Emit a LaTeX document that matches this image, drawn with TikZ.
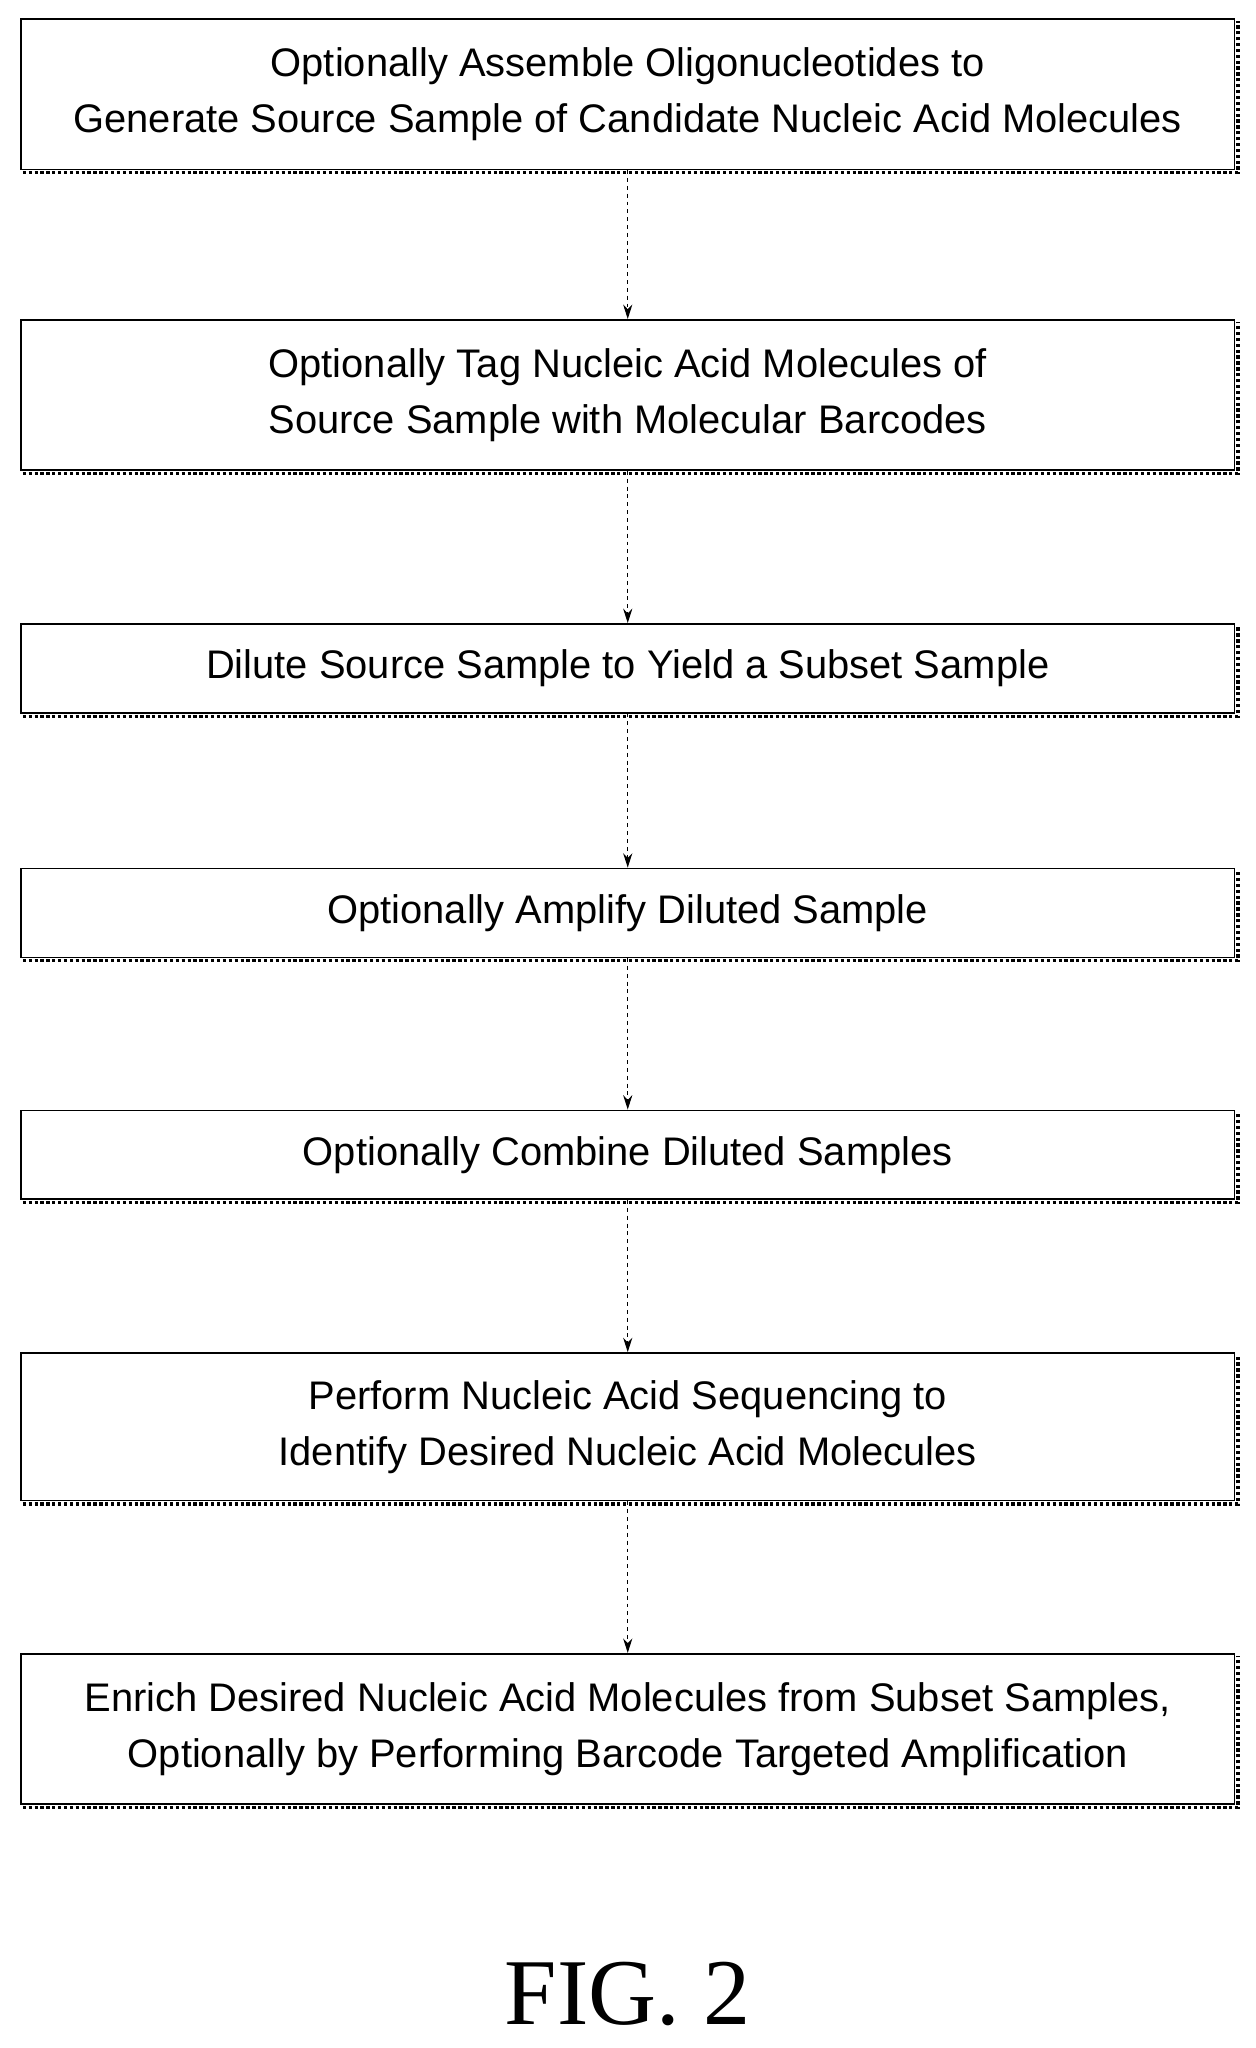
\documentclass[tikz,border=0pt]{standalone}
\usepackage{fontspec}
\setmainfont{Liberation Sans}
\newfontfamily\figfont{Liberation Serif}
\usetikzlibrary{arrows.meta}
\begin{document}
\begin{tikzpicture}[x=1pt,y=-1pt,
  box/.style={draw,line width=1.2pt,minimum width=928pt,align=center,
    font=\fontsize{30.5}{43}\selectfont,inner sep=0pt},
  arr/.style={draw,line width=0.8pt,dash pattern=on 3pt off 3pt,-{Stealth[length=11pt,width=7pt]}}]
\useasboundingbox (0,0) rectangle (960,1566);
\newcommand{\bx}[4]{%
  \node[box,minimum height=#3] (#1) at (480,#2) {#4};
  \draw[line width=2.5pt,dotted] ([xshift=2pt,yshift=-2pt]#1.south west) -- ([xshift=2pt,yshift=-2pt]#1.south east) -- ([xshift=2pt,yshift=-2pt]#1.north east);}
\bx{a}{72}{115pt}{Optionally Assemble Oligonucleotides to\\Generate Source Sample of Candidate Nucleic Acid Molecules}
\bx{b}{302}{115pt}{Optionally Tag Nucleic Acid Molecules of\\Source Sample with Molecular Barcodes}
\bx{c}{511}{68pt}{Dilute Source Sample to Yield a Subset Sample}
\bx{d}{698}{68pt}{Optionally Amplify Diluted Sample}
\bx{e}{883}{68pt}{Optionally Combine Diluted Samples}
\bx{f}{1091}{113pt}{Perform Nucleic Acid Sequencing to\\Identify Desired Nucleic Acid Molecules}
\bx{g}{1322}{115pt}{Enrich Desired Nucleic Acid Molecules from Subset Samples,\\Optionally by Performing Barcode Targeted Amplification}
\draw[arr] (a.south) -- (b.north);
\draw[arr] (b.south) -- (c.north);
\draw[arr] (c.south) -- (d.north);
\draw[arr] (d.south) -- (e.north);
\draw[arr] (e.south) -- (f.north);
\draw[arr] (f.south) -- (g.north);
\node[font=\figfont\fontsize{72}{80}\selectfont] (fig) at (480,1525) {FIG. 2};
\end{tikzpicture}
\end{document}
